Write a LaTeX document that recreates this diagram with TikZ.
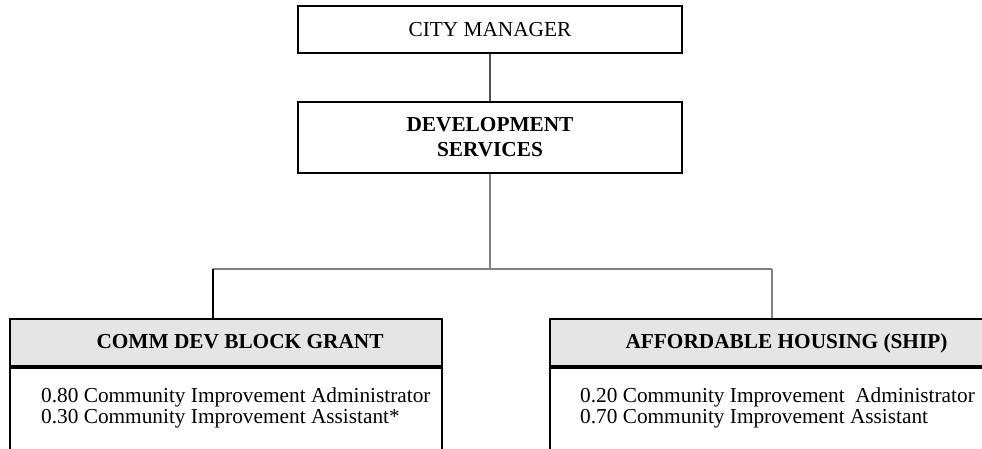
\documentclass[tikz,border=0pt]{standalone}
\usepackage{fontspec}
\setmainfont{Liberation Serif}
\definecolor{hdrfill}{RGB}{229,229,229}
\definecolor{lineA}{RGB}{80,80,80}
\definecolor{lineB}{RGB}{128,128,128}
\tikzset{
  box/.style={draw=black, line width=2pt, fill=white, inner sep=0pt, font=\fontsize{21.3}{21}\selectfont},
  hdrbox/.style={draw=black, line width=2pt, fill=hdrfill, inner sep=0pt, anchor=north west},
  bodybox/.style={draw=black, line width=2pt, fill=white, inner sep=0pt, anchor=north west},
  hdrtext/.style={anchor=base, inner sep=0pt, font=\fontsize{21.3}{21}\selectfont\bfseries},
  bodytext/.style={anchor=base west, inner sep=0pt, font=\fontsize{21.3}{21}\selectfont},
  connA/.style={draw=lineA, line width=1.4pt},
  connB/.style={draw=lineB, line width=1.4pt},
  connC/.style={draw=black, line width=1.4pt}
}
\begin{document}
\begin{tikzpicture}[x=1pt,y=-1pt]
\useasboundingbox (0,0) rectangle (982,449);
\clip (0,0) rectangle (982,449);
% top boxes
\node[box, minimum width=384pt, minimum height=47pt] (cm) at (490,29.5) {CITY MANAGER};
\node[box, minimum width=384pt, minimum height=71pt, align=center,
      font=\fontsize{21.3}{25}\selectfont\bfseries] (dev) at (490,137.5) {DEVELOPMENT\\SERVICES};
% junction coordinates
\coordinate (j) at (490,269);
\coordinate (lj) at (213,269);
\coordinate (rj) at (772,269);
% bottom boxes
\node[hdrbox, minimum width=432pt, minimum height=47pt] (lhead) at (9,318) {};
\node[bodybox, minimum width=432pt, minimum height=120pt] (lbody) at (lhead.south west) {};
\node[hdrbox, minimum width=470pt, minimum height=47pt] (rhead) at (549,318) {};
\node[bodybox, minimum width=470pt, minimum height=120pt] (rbody) at (rhead.south west) {};
% texts
\node[hdrtext] (lhtext) at (240,348) {COMM DEV BLOCK GRANT};
\node[hdrtext] (rhtext) at (786.5,348) {AFFORDABLE HOUSING (SHIP)};
\node[bodytext] (l1) at (41,402) {0.80 Community Improvement Administrator};
\node[bodytext] (l2) at (41,423) {0.30 Community Improvement Assistant*};
\node[bodytext] (r1) at (580,402) {0.20 Community Improvement\ \ Administrator};
\node[bodytext] (r2) at (580,423) {0.70 Community Improvement Assistant};
% connectors
\draw[connA] (cm.south) -- (dev.north);
\draw[connB] (dev.south) -- (j);
\draw[connB] (lj) -- (rj);
\draw[connC] (lj) -- (lj |- lhead.north);
\draw[connB] (rj) -- (rj |- rhead.north);
\end{tikzpicture}
\end{document}
